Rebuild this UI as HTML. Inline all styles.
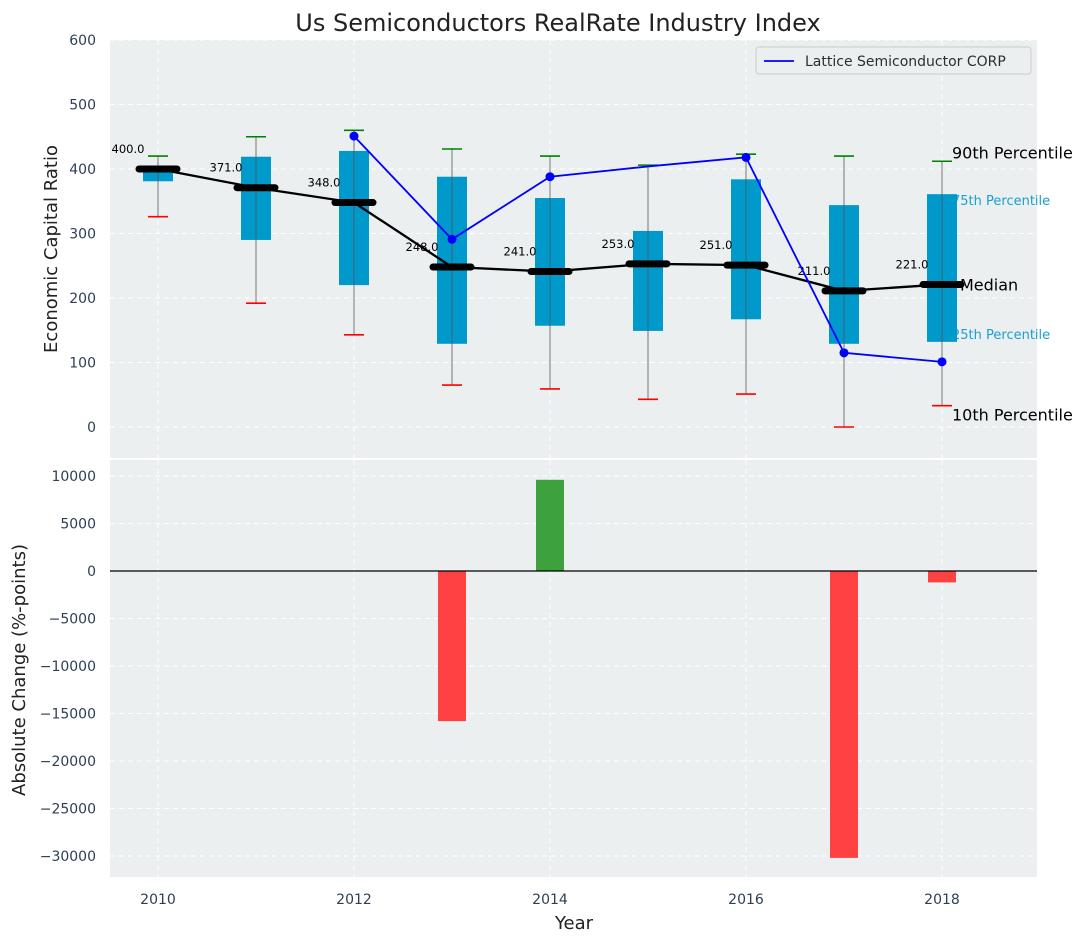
<!DOCTYPE html>
<html><head><meta charset="utf-8"><style>
body{margin:0;background:#fff;font-family:"Liberation Sans","DejaVu Sans",sans-serif}
svg text{font-family:"DejaVu Sans","Liberation Sans",sans-serif}
</style></head><body>
<svg id="c" width="1087" height="942" xmlns="http://www.w3.org/2000/svg"></svg>
<script>
const years=[2010,2011,2012,2013,2014,2015,2016,2017,2018];
const p10=[326,192,143,65,59,43,51,0,33];
const p25=[381,290,220,129,157,149,167,129,132];
const med=[400,371,348,248,241,253,251,211,221];
const p75=[405,419,428,388,355,304,384,344,361];
const p90=[420,450,460,431,420,406,423,420,412];
const latYears=[2012,2013,2014,2015,2016,2017,2018];
const latVals=[451,291,388,404,418,115,101];
const latMarker=[1,1,1,0,1,1,1];
const chgYears=[2013,2014,2017,2018];
const chgVals=[-15800,9600,-30200,-1200];
const topTicks=[0,100,200,300,400,500,600];
const botTicks=[-30000,-25000,-20000,-15000,-10000,-5000,0,5000,10000];
const xTicks=[2010,2012,2014,2016,2018];

const svg=document.getElementById('c');
const NS='http://www.w3.org/2000/svg';
function mk(t,a,txt){const e=document.createElementNS(NS,t);for(const k in a)e.setAttribute(k,a[k]);if(txt!==undefined)e.textContent=txt;svg.appendChild(e);return e;}
const X=v=>158+(v-2010)*98;
const Yt=v=>427-v*0.645;
const Yb=v=>571-v*0.0095;
const L=110,R=1037;

let e;
e=mk('rect',{x:L,y:40,width:R-L,height:418,fill:'#ebeff0'});

e=mk('rect',{x:L,y:460,width:R-L,height:417,fill:'#ebeff0'});

for(const t of topTicks){mk('line',{x1:L,x2:R,y1:Yt(t),y2:Yt(t),stroke:'#fff','stroke-dasharray':'5,4'});
 e=mk('text',{x:96,y:Yt(t)+5,'text-anchor':'end','font-size':14,fill:'#2e3f55'},t);
 }
for(const t of botTicks){mk('line',{x1:L,x2:R,y1:Yb(t),y2:Yb(t),stroke:'#fff','stroke-dasharray':'5,4'});
 e=mk('text',{x:96,y:Yb(t)+5,'text-anchor':'end','font-size':14,fill:'#2e3f55'},t<0?'\u2212'+(-t):t);
 }
for(const t of xTicks){mk('line',{x1:X(t),x2:X(t),y1:40,y2:458,stroke:'#fff','stroke-dasharray':'5,4'});
 mk('line',{x1:X(t),x2:X(t),y1:460,y2:877,stroke:'#fff','stroke-dasharray':'5,4'});
 e=mk('text',{x:X(t),y:904,'text-anchor':'middle','font-size':14,fill:'#2e3f55'},t);
 }
const ly=years.length-1;
e=mk('text',{x:952,y:Yt(p75[ly])+11,'font-size':13,fill:'#1a9fd0'},'75th Percentile');

e=mk('text',{x:952,y:Yt(p25[ly])-3,'font-size':13,fill:'#1a9fd0'},'25th Percentile');

years.forEach((y,i)=>{const x=X(y);
 e=mk('rect',{x:x-15,y:Yt(p75[i]),width:30,height:Yt(p25[i])-Yt(p75[i]),fill:'#0099cc'});
 
 e=mk('line',{x1:x,x2:x,y1:Yt(p90[i]),y2:Yt(p10[i]),stroke:'#555','stroke-opacity':0.6,'stroke-width':1.3});
 
 e=mk('line',{x1:x-10,x2:x+10,y1:Yt(p90[i]),y2:Yt(p90[i]),stroke:'green','stroke-width':1.6});
 
 e=mk('line',{x1:x-10,x2:x+10,y1:Yt(p10[i]),y2:Yt(p10[i]),stroke:'red','stroke-width':1.6});
 
});
e=mk('polyline',{points:years.map((y,i)=>X(y)+','+Yt(med[i])).join(' '),fill:'none',stroke:'#000','stroke-width':2.3});

years.forEach((y,i)=>{const x=X(y);
 e=mk('line',{x1:x-19,x2:x+19,y1:Yt(med[i]),y2:Yt(med[i]),stroke:'#000','stroke-width':7,'stroke-linecap':'round'});
 
 e=mk('text',{x:x-30,y:Yt(med[i])-16,'text-anchor':'middle','font-size':11.5,fill:'#000'},med[i].toFixed(1));
 
});
e=mk('polyline',{points:latYears.map((y,i)=>X(y)+','+Yt(latVals[i])).join(' '),fill:'none',stroke:'blue','stroke-width':1.8});

latYears.forEach((y,i)=>{if(!latMarker[i])return;
 e=mk('circle',{cx:X(y),cy:Yt(latVals[i]),r:4.5,fill:'blue'});
 });
e=mk('text',{x:952,y:Yt(p90[ly])-3,'font-size':16,fill:'#000'},'90th Percentile');

e=mk('text',{x:960,y:Yt(med[ly])+6,'font-size':16,fill:'#000'},'Median');

e=mk('text',{x:952,y:Yt(p10[ly])+15,'font-size':16,fill:'#000'},'10th Percentile');

e=mk('rect',{x:756,y:47,width:275,height:27,rx:3,fill:'#ebeff0',stroke:'#ccc'});

mk('line',{x1:764,x2:794,y1:61,y2:61,stroke:'blue','stroke-width':1.8});
e=mk('text',{x:805,y:66,'font-size':14,fill:'#2e2e2e'},'Lattice Semiconductor CORP');

chgYears.forEach((y,i)=>{const v=chgVals[i];const y0=Yb(Math.max(v,0)),y1=Yb(Math.min(v,0));
 e=mk('rect',{x:X(y)-14,y:y0,width:28,height:y1-y0,fill:v>=0?'#2e9a2e':'#ff3333','fill-opacity':0.92});
 });
mk('line',{x1:L,x2:R,y1:Yb(0),y2:Yb(0),stroke:'#000','stroke-width':1.2});
e=mk('text',{x:558,y:31,'text-anchor':'middle','font-size':24,fill:'#222'},'Us Semiconductors RealRate Industry Index');

e=mk('text',{x:0,y:0,'text-anchor':'middle','font-size':18,fill:'#222',transform:'translate(57,249) rotate(-90)'},'Economic Capital Ratio');

e=mk('text',{x:0,y:0,'text-anchor':'middle','font-size':18,fill:'#222',transform:'translate(25,670) rotate(-90)'},'Absolute Change (%-points)');

e=mk('text',{x:574,y:929,'text-anchor':'middle','font-size':18,fill:'#222'},'Year');

</script>
</body></html>
